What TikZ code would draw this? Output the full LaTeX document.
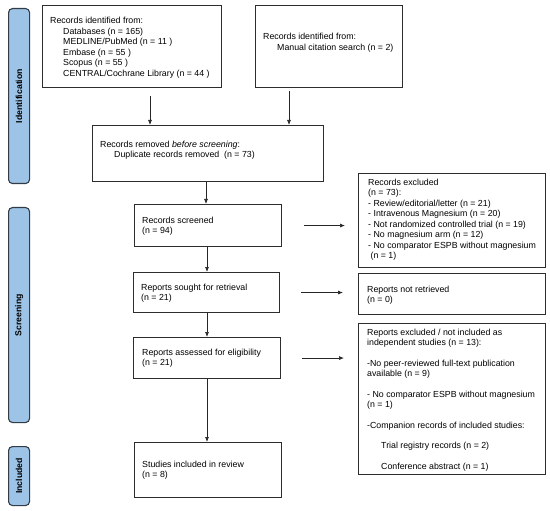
\documentclass[tikz,border=0pt]{standalone}
\usepackage{fontspec}
\setmainfont{Liberation Sans}
\usetikzlibrary{arrows.meta}
\definecolor{barfill}{RGB}{157,195,230}
\definecolor{barline}{RGB}{50,60,70}
\definecolor{boxline}{RGB}{45,45,45}
\begin{document}
\begin{tikzpicture}[x=1pt,y=-1pt,
  box/.style={draw=boxline,line width=1.1pt,rectangle,inner sep=0pt,anchor=north west},
  txt/.style={inner sep=0pt,anchor=north west,align=left,font=\fontsize{8.8}{10.5}\selectfont},
  bar/.style={draw=barline,fill=barfill,line width=1.1pt,rounded corners=4pt,inner sep=0pt,anchor=north west},
  barlabel/.style={rotate=90,font=\fontsize{8.7}{10.5}\selectfont\bfseries,inner sep=0pt},
  arr/.style={draw=black!85,line width=0.7pt,-{Latex[length=5pt,width=4pt]}}
]
\useasboundingbox (0,0) rectangle (550,511);

% side bars
\node[bar,minimum width=21pt,minimum height=175pt] (idbar) at (8,8) {};
\node[barlabel] (idlab) at (idbar.center) {Identification};
\node[bar,minimum width=21pt,minimum height=215pt] (scbar) at (8,207) {};
\node[barlabel] (sclab) at (scbar.center) {Screening};
\node[bar,minimum width=21pt,minimum height=59pt] (inbar) at (8,446) {};
\node[barlabel] (inlab) at (inbar.center) {Included};

% boxes
\node[box,minimum width=179pt,minimum height=82pt] (b1) at (42,5) {};
\node[txt] (t1) at (50,17.2) {Records identified from:\\
\hspace*{13pt}Databases (n = 165)\\
\hspace*{13pt}MEDLINE/PubMed (n = 11 )\\
\hspace*{13pt}Embase (n = 55 )\\
\hspace*{13pt}Scopus (n = 55 )\\
\hspace*{13pt}CENTRAL/Cochrane Library (n = 44 )};

\node[box,minimum width=147pt,minimum height=82pt] (b2) at (255,5) {};
\node[txt] (t2) at (263,33.2) {Records identified from:\\
\hspace*{14pt}Manual citation search (n = 2)};

\node[box,minimum width=231pt,minimum height=56pt] (b3) at (92,125) {};
\node[txt] (t3) at (100,140.5) {Records removed \textit{before screening}:\\
\hspace*{14pt}Duplicate records removed~ (n = 73)};

\node[box,minimum width=147pt,minimum height=42pt] (scr) at (134,204) {};
\node[txt] (t4) at (142,216.5) {Records screened\\(n = 94)};

\node[box,minimum width=187pt,minimum height=94pt] (exc) at (358,173) {};
\node[txt] (t5) at (368,178.5) {Records excluded\\
(n = 73):\\
- Review/editorial/letter (n = 21)\\
- Intravenous Magnesium (n = 20)\\
- Not randomized controlled trial (n = 19)\\
- No magnesium arm (n = 12)\\
- No comparator ESPB without magnesium\\
\hspace*{2.4pt}(n = 1)};

\node[box,minimum width=146pt,minimum height=40pt] (sought) at (133,272) {};
\node[txt] (t6) at (141,283.5) {Reports sought for retrieval\\(n = 21)};

\node[box,minimum width=187pt,minimum height=41pt] (nret) at (358,273) {};
\node[txt] (t7) at (367,285.5) {Reports not retrieved\\(n = 0)};

\node[box,minimum width=147pt,minimum height=41pt] (ass) at (133,337) {};
\node[txt] (t8) at (142,348.5) {Reports assessed for eligibility\\(n = 21)};

\node[box,minimum width=187pt,minimum height=151pt] (exc2) at (358,323) {};
\node[txt] (t9) at (367,328.5) {Reports excluded / not included as\\
independent studies (n = 13):\\[10pt]
-No peer-reviewed full-text publication\\
available (n = 9)\\[10pt]
- No comparator ESPB without magnesium\\
(n = 1)\\[10pt]
-Companion records of included studies:\\[10pt]
\hspace*{14pt}Trial registry records (n = 2)\\[10pt]
\hspace*{14pt}Conference abstract (n = 1)};

\node[box,minimum width=147pt,minimum height=55pt] (inc) at (134,442) {};
\node[txt] (t10) at (142,460.5) {Studies included in review\\(n = 8)};

% arrows
\coordinate (x1) at (150,0);
\coordinate (x2) at (289,0);
\coordinate (xa) at (206,0);
\coordinate (xb) at (207,0);
\draw[arr,shorten <=8pt] (b1.south -| x1) -- (b3.north -| x1);
\draw[arr,shorten <=3pt] (b2.south -| x2) -- (b3.north -| x2);
\draw[arr] (b3.south -| xa) -- (scr.north -| xa);
\draw[arr] (scr.south -| xb) -- (sought.north -| xb);
\draw[arr] (sought.south -| xb) -- (ass.north -| xb);
\draw[arr] (ass.south -| xb) -- (inc.north -| xb);
\draw[arr,shorten <=22pt,shorten >=13pt] (scr.east) -- (scr.east -| exc.west);
\draw[arr,shorten <=21pt,shorten >=15pt] (sought.east) -- (sought.east -| nret.west);
\draw[arr,shorten <=21pt,shorten >=14pt] (ass.east) -- (ass.east -| exc2.west);
\end{tikzpicture}
\end{document}
